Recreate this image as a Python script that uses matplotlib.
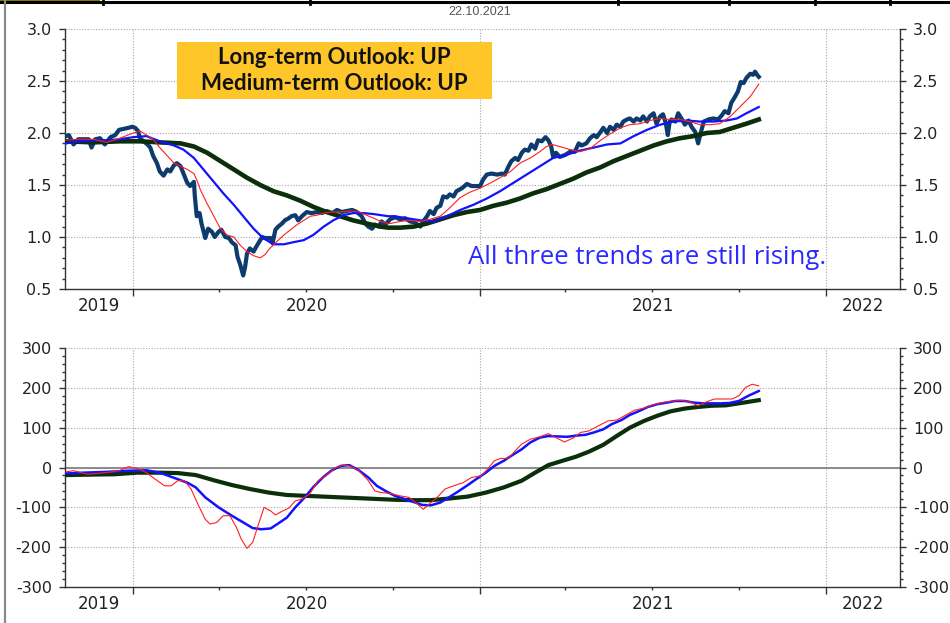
import numpy as np
import matplotlib
matplotlib.use("Agg")
import matplotlib.pyplot as plt
import matplotlib.dates as mdates
from matplotlib.ticker import MultipleLocator
from matplotlib.patches import Rectangle
from matplotlib.lines import Line2D

# ---------------------------------------------------------------- data
START = np.datetime64("2019-10-22")
END_VIEW = np.datetime64("2022-03-20")
REPORT_DATE = "22.10.2021"

# price (days since START, level)
price_days = [0, 3, 8, 13, 19, 24, 27, 31, 36, 41, 47, 52, 56, 61, 66, 70, 73, 76, 78, 82,
              86, 89, 92, 96, 99, 103, 107, 110, 114, 117, 121, 124, 128, 131, 135, 136, 138,
              141, 143, 147, 150, 154, 157, 161, 164, 168, 172, 175, 179, 181, 184, 187, 189,
              191, 194, 198, 201, 205, 207, 210, 216, 218, 221, 224, 228, 231, 235, 238, 242,
              245, 249, 254, 259, 265, 270, 275, 281, 286, 291, 296, 302, 307, 312, 316, 319,
              323, 326, 330, 333, 337, 340, 342, 347, 353, 358, 363, 368, 374, 377, 381, 384,
              388, 391, 395, 398, 402, 405, 409, 412, 418, 423, 428, 433, 437, 440, 444, 449,
              455, 460, 463, 467, 470, 474, 477, 481, 484, 488, 491, 495, 498, 502, 506, 509,
              512, 514, 517, 521, 527, 532, 537, 541, 544, 549, 553, 557, 560, 564, 567, 571,
              574, 578, 581, 585, 588, 592, 595, 599, 602, 606, 609, 613, 616, 620, 623, 627,
              630, 633, 635, 637, 639, 643, 646, 650, 653, 657, 660, 664, 667, 670, 673, 678,
              683, 688, 692, 695, 699, 702, 706, 709, 712, 715, 718, 722, 725, 727, 730, 731]
price = [1.97, 1.98, 1.89, 1.94, 1.94, 1.94, 1.86, 1.94, 1.95, 1.89, 1.96, 1.98, 2.03, 2.04,
         2.05, 2.06, 2.05, 2.02, 1.95, 1.92, 1.89, 1.86, 1.78, 1.71, 1.63, 1.59, 1.65, 1.63,
         1.69, 1.71, 1.68, 1.61, 1.52, 1.49, 1.53, 1.39, 1.20, 1.23, 1.13, 0.99, 1.08, 1.05,
         1.00, 1.05, 1.07, 1.00, 0.99, 0.95, 0.92, 0.81, 0.73, 0.63, 0.71, 0.84, 0.89, 0.86,
         0.91, 0.97, 1.00, 0.99, 0.99, 0.94, 1.07, 1.10, 1.13, 1.16, 1.18, 1.20, 1.21, 1.16,
         1.20, 1.24, 1.23, 1.24, 1.23, 1.25, 1.23, 1.26, 1.24, 1.25, 1.26, 1.24, 1.20, 1.13,
         1.10, 1.08, 1.12, 1.10, 1.15, 1.12, 1.15, 1.17, 1.19, 1.17, 1.18, 1.15, 1.14, 1.10,
         1.15, 1.20, 1.25, 1.22, 1.28, 1.30, 1.39, 1.38, 1.41, 1.39, 1.44, 1.47, 1.51, 1.49,
         1.49, 1.49, 1.55, 1.60, 1.61, 1.60, 1.61, 1.60, 1.68, 1.73, 1.76, 1.74, 1.81, 1.84,
         1.83, 1.89, 1.85, 1.93, 1.92, 1.96, 1.93, 1.87, 1.77, 1.81, 1.77, 1.79, 1.82, 1.82,
         1.90, 1.88, 1.90, 1.95, 1.98, 1.96, 2.01, 2.05, 2.00, 2.06, 2.03, 2.08, 2.06, 2.11,
         2.13, 2.14, 2.11, 2.14, 2.12, 2.16, 2.11, 2.16, 2.19, 2.09, 2.16, 2.18, 2.09, 1.98,
         2.11, 2.13, 2.11, 2.19, 2.13, 2.08, 2.12, 2.06, 2.01, 1.90, 2.01, 2.11, 2.13, 2.14,
         2.13, 2.17, 2.21, 2.19, 2.29, 2.35, 2.40, 2.49, 2.48, 2.53, 2.57, 2.56, 2.59, 2.55,
         2.54]

# short-term trend
short_days = [0, 15, 29, 43, 57, 68, 78, 85, 92, 99, 107, 114, 121, 128, 135, 138, 142, 149,
              156, 163, 170, 177, 184, 191, 198, 205, 210, 215, 223, 230, 237, 244, 251, 258,
              265, 272, 279, 289, 300, 310, 317, 325, 332, 340, 342, 353, 363, 374, 384, 395,
              405, 416, 426, 437, 448, 458, 469, 479, 490, 500, 507, 513, 521, 532, 542, 553,
              564, 574, 585, 595, 606, 616, 627, 637, 648, 658, 669, 680, 690, 701, 711, 722,
              731]
short_trend = [1.93, 1.94, 1.94, 1.91, 1.95, 1.99, 2.02, 1.98, 1.94, 1.86, 1.78, 1.71, 1.68,
               1.65, 1.61, 1.55, 1.45, 1.32, 1.20, 1.08, 1.02, 1.00, 0.92, 0.86, 0.82, 0.80,
               0.83, 0.89, 0.96, 1.02, 1.07, 1.12, 1.16, 1.20, 1.21, 1.23, 1.24, 1.24, 1.25,
               1.24, 1.21, 1.18, 1.15, 1.13, 1.13, 1.15, 1.16, 1.15, 1.17, 1.20, 1.28, 1.38,
               1.43, 1.47, 1.52, 1.57, 1.63, 1.71, 1.76, 1.82, 1.87, 1.89, 1.87, 1.84, 1.82,
               1.85, 1.93, 1.99, 2.05, 2.08, 2.09, 2.12, 2.14, 2.13, 2.13, 2.11, 2.08, 2.08,
               2.09, 2.16, 2.25, 2.35, 2.47]

# medium-term trend
medium_days = [0, 15, 29, 43, 57, 71, 85, 99, 114, 124, 135, 145, 156, 166, 177, 187, 198,
               208, 219, 230, 240, 251, 261, 272, 282, 293, 303, 314, 325, 340, 346, 360, 374,
               388, 402, 416, 430, 444, 458, 472, 486, 500, 514, 528, 542, 557, 571, 585, 599,
               613, 627, 641, 655, 669, 683, 697, 708, 718, 731]
medium_trend = [1.90, 1.92, 1.93, 1.93, 1.94, 1.96, 1.97, 1.92, 1.88, 1.84, 1.76, 1.65, 1.53,
                1.42, 1.31, 1.20, 1.08, 0.99, 0.93, 0.93, 0.95, 0.97, 1.02, 1.10, 1.16, 1.21,
                1.23, 1.23, 1.22, 1.20, 1.20, 1.18, 1.16, 1.15, 1.20, 1.26, 1.31, 1.37, 1.44,
                1.52, 1.60, 1.68, 1.76, 1.79, 1.83, 1.86, 1.89, 1.90, 1.97, 2.03, 2.08, 2.11,
                2.12, 2.11, 2.11, 2.12, 2.14, 2.19, 2.25]

# long-term trend
long_days = [0, 29, 57, 78, 99, 121, 135, 149, 163, 177, 191, 205, 219, 233, 247, 261, 275,
             289, 303, 317, 332, 340, 353, 367, 381, 395, 409, 423, 437, 451, 465, 479, 493,
             507, 521, 535, 549, 564, 578, 592, 606, 620, 634, 648, 662, 676, 690, 704, 718,
             731]
long_trend = [1.92, 1.91, 1.92, 1.92, 1.91, 1.90, 1.87, 1.81, 1.73, 1.65, 1.57, 1.50, 1.44,
              1.40, 1.35, 1.29, 1.24, 1.20, 1.16, 1.13, 1.10, 1.09, 1.09, 1.10, 1.13, 1.17,
              1.21, 1.24, 1.26, 1.30, 1.33, 1.37, 1.42, 1.46, 1.51, 1.56, 1.62, 1.67, 1.73,
              1.78, 1.83, 1.88, 1.92, 1.95, 1.97, 2.00, 2.01, 2.05, 2.09, 2.13]

# trend strength oscillators (lower panel)
short_osc_days = [0, 8, 23, 42, 56, 66, 75, 85, 94, 104, 111, 118, 125, 132, 140, 147, 152,
                  159, 166, 173, 180, 185, 191, 197, 202, 209, 216, 221, 228, 235, 242, 249,
                  257, 266, 276, 285, 292, 300, 309, 319, 326, 333, 342, 352, 362, 371, 377,
                  383, 390, 400, 409, 419, 428, 438, 445, 452, 459, 467, 474, 481, 490, 500,
                  509, 517, 526, 536, 543, 552, 562, 572, 581, 591, 600, 610, 619, 629, 638,
                  648, 657, 667, 674, 684, 693, 703, 710, 717, 724, 731]
short_osc = [-11, -8, -17, -13, -8, 2, -2, -13, -29, -46, -46, -33, -33, -54, -96, -130, -142,
             -138, -121, -121, -151, -180, -203, -188, -151, -100, -109, -119, -110, -102, -84,
             -79, -67, -33, -17, 0, 6, 4, -8, -33, -59, -63, -65, -71, -75, -92, -105, -92,
             -79, -54, -46, -38, -25, -21, -4, 17, 23, 23, 42, 59, 71, 77, 85, 75, 64, 75, 88,
             92, 105, 117, 119, 132, 144, 149, 157, 163, 166, 169, 166, 155, 163, 172, 172,
             172, 180, 201, 209, 205]

medium_osc_days = [0, 18, 42, 66, 85, 99, 113, 128, 137, 147, 161, 175, 190, 197, 206, 216,
                   223, 233, 242, 252, 261, 271, 280, 290, 299, 309, 319, 328, 338, 347, 357,
                   366, 376, 385, 395, 404, 414, 424, 433, 443, 452, 462, 471, 481, 490, 500,
                   509, 519, 529, 538, 548, 557, 567, 576, 586, 595, 605, 614, 624, 634, 643,
                   653, 662, 672, 681, 691, 700, 710, 720, 731]
medium_osc = [-15, -13, -11, -8, -7, -13, -25, -38, -50, -75, -100, -121, -142, -152, -155,
              -153, -142, -126, -100, -75, -49, -25, -8, 4, 6, -7, -25, -46, -60, -71, -79,
              -86, -94, -95, -88, -75, -60, -44, -29, -13, 4, 17, 31, 46, 63, 75, 79, 78, 77,
              80, 82, 88, 96, 109, 119, 132, 142, 152, 159, 163, 167, 167, 163, 161, 161, 161,
              162, 167, 180, 192]

long_osc_days = [0, 23, 51, 75, 99, 118, 137, 156, 175, 194, 214, 233, 252, 271, 290, 309,
                 328, 347, 366, 385, 404, 424, 443, 462, 481, 495, 509, 524, 538, 552, 567,
                 581, 595, 610, 624, 638, 653, 667, 681, 696, 710, 731]
long_osc = [-19, -18, -17, -13, -13, -14, -19, -32, -44, -54, -63, -69, -71, -73, -75, -77,
            -79, -81, -82, -82, -78, -73, -63, -50, -33, -13, 6, 17, 27, 40, 57, 79, 100, 117,
            130, 141, 148, 152, 155, 156, 161, 169]

year_labels = ["2019", "2020", "2021", "2022"]
headline = ["Long-term Outlook: UP", "Medium-term Outlook: UP"]
comment = "All three trends are still rising."

# ---------------------------------------------------------------- styles
NAVY = "#0d3b6e"
RED = "#ff1f1f"
BLUE = "#1212ff"
GREEN = "#0a2f0a"
GRID = "#a8a8a8"
AXIS = "#333333"

plt.rcParams["font.family"] = ["DejaVu Sans"]

W, H = 950, 623
fig = plt.figure(figsize=(W / 100, H / 100), dpi=100)
fig.patch.set_facecolor("white")


def px_box(left, top, right, bottom):
    return [left / W, 1 - bottom / H, (right - left) / W, (bottom - top) / H]


ax1 = fig.add_axes(px_box(65, 29, 900, 289))
ax2 = fig.add_axes(px_box(65, 348, 900, 587))


def as_dates(days):
    return START + np.asarray(days).astype("timedelta64[D]")


# upper panel: price and its three trends
ax1.plot(as_dates(price_days), price, color=NAVY, lw=3.0, solid_joinstyle="round", zorder=3)
ax1.plot(as_dates(long_days), long_trend, color=GREEN, lw=3.3, zorder=4)
ax1.plot(as_dates(medium_days), medium_trend, color=BLUE, lw=1.6, zorder=5)
ax1.plot(as_dates(short_days), short_trend, color=RED, lw=0.8, zorder=6)

# lower panel: oscillators around zero
ax2.axhline(0, color="#7a7a7a", lw=1.2, zorder=2)
ax2.plot(as_dates(long_osc_days), long_osc, color=GREEN, lw=3.0, zorder=3)
ax2.plot(as_dates(medium_osc_days), medium_osc, color=BLUE, lw=1.8, zorder=4)
ax2.plot(as_dates(short_osc_days), short_osc, color=RED, lw=0.8, zorder=5)

ax1.set_ylim(0.5, 3.0)
ax1.yaxis.set_major_locator(MultipleLocator(0.5))
ax1.yaxis.set_minor_locator(MultipleLocator(0.1))
ax1.yaxis.set_major_formatter(matplotlib.ticker.FormatStrFormatter("%.1f"))

ax2.set_ylim(-300, 300)
ax2.yaxis.set_major_locator(MultipleLocator(100))
ax2.yaxis.set_minor_locator(MultipleLocator(20))
ax2.yaxis.set_major_formatter(matplotlib.ticker.FormatStrFormatter("%d"))

x_lo = START - np.timedelta64(1, "D")
year_starts = [np.datetime64(f"{y}-01-01") for y in (2019, 2020, 2021, 2022, 2023)]

for ax in (ax1, ax2):
    ax.set_xlim(x_lo, END_VIEW)
    ax.set_facecolor("white")
    ax.spines["top"].set_visible(False)
    for side in ("left", "right", "bottom"):
        ax.spines[side].set_color(AXIS)
        ax.spines[side].set_linewidth(1.0)
    ax.grid(axis="y", which="major", color=GRID, lw=0.8, ls=(0, (1, 1.5)), zorder=0)
    for ys in year_starts[1:4]:
        ax.axvline(ys, color=GRID, lw=0.8, ls=(0, (1, 1.5)), zorder=0)

    ax.xaxis.set_major_locator(mdates.YearLocator())
    ax.xaxis.set_minor_locator(mdates.MonthLocator(bymonth=[4, 7, 10]))
    ax.xaxis.set_major_formatter(matplotlib.ticker.NullFormatter())
    ax.tick_params(axis="x", which="major", length=5, width=1, color=AXIS, direction="out")
    ax.tick_params(axis="x", which="minor", length=2.5, width=1, color=AXIS, direction="out")
    ax.tick_params(axis="y", which="both", left=True, right=True, labelleft=True,
                   labelright=True, direction="out", color=AXIS, width=1,
                   labelsize=11.5, labelcolor="#222222", pad=5)
    ax.tick_params(axis="y", which="major", length=4.5)
    ax.tick_params(axis="y", which="minor", length=2)

    # year names centred on the visible part of each calendar year
    lo, hi = ax.get_xlim()
    for lab, a, b in zip(year_labels, year_starts[:-1], year_starts[1:]):
        a_n = max(mdates.date2num(a), lo)
        b_n = min(mdates.date2num(b), hi)
        ax.annotate(lab, xy=((a_n + b_n) / 2, 0), xycoords=("data", "axes fraction"),
                    xytext=(0, -12.5), textcoords="offset points", ha="center",
                    va="center", fontsize=12, color="#222222")

# date stamp
fig.text(480 / W, 1 - 12 / H, REPORT_DATE, ha="center", va="center", fontsize=9,
         color="#555555", family="Liberation Sans")

# outlook banner
fig.add_artist(Rectangle((177 / W, 1 - 99 / H), (492 - 177) / W, (99 - 42) / H,
                         transform=fig.transFigure, facecolor="#ffc629", edgecolor="none",
                         zorder=10))
for txt, yy in zip(headline, (57, 84)):
    fig.text(334.5 / W, 1 - yy / H, txt, ha="center", va="center", fontsize=16,
             fontweight="bold", color="#111111", family="Lato", zorder=11)

ax1.text((647.5 - 65) / 835, (289 - 264) / 260, comment, transform=ax1.transAxes,
         ha="center", va="baseline", fontsize=18.5, color="#2a2aff", family="Open Sans",
         zorder=8)

# surrounding page frame
fig.add_artist(Line2D([0, 1], [1 - 1.5 / H] * 2, transform=fig.transFigure, color="black",
                      lw=2.2))
fig.add_artist(Rectangle((0, 1 - 3 / H), 100 / W, 3 / H, transform=fig.transFigure,
                         facecolor="#857a00", edgecolor="none"))
for xs in (103, 310, 618, 729, 815, 890):
    fig.add_artist(Line2D([xs / W] * 2, [1 - 4 / H, 1], transform=fig.transFigure,
                          color="black", lw=2))
fig.add_artist(Line2D([5 / W] * 2, [0, 1], transform=fig.transFigure, color="#8a8a8a",
                      lw=1.6))

fig.savefig("out.png", dpi=100)
